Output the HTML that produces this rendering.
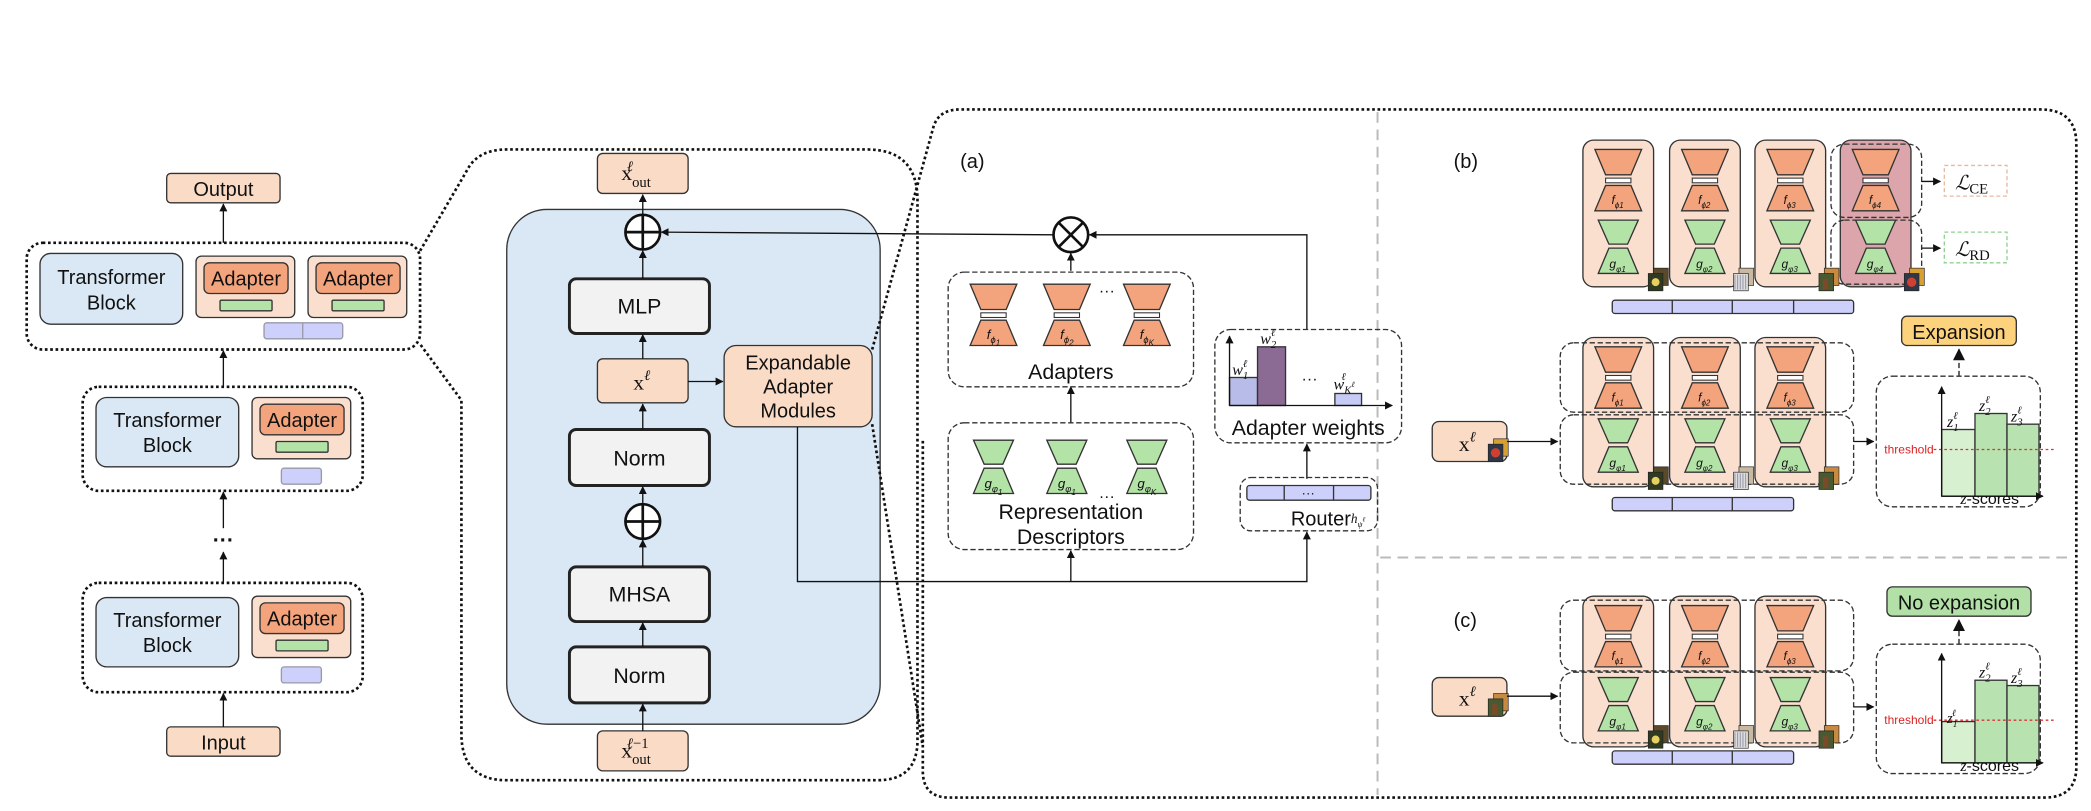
<!DOCTYPE html>
<html><head><meta charset="utf-8"><style>
html,body{margin:0;padding:0;background:#fff;}
svg{display:block;}
text{font-family:"Liberation Sans",sans-serif;fill:#111;}
.m{font-family:"Liberation Serif",serif;font-style:italic;}
.r{font-family:"Liberation Serif",serif;}
</style></head><body>
<svg width="2091" height="811" viewBox="0 0 1568 608" xmlns="http://www.w3.org/2000/svg">
<defs>
<marker id="ar" viewBox="0 0 10 10" refX="9" refY="5" markerWidth="6" markerHeight="6" orient="auto-start-reverse"><path d="M0,0L10,5L0,10z" fill="#111"/></marker>
<g id="ho"><polygon points="-17.5,0 17.5,0 9.5,19 -9.5,19" fill="#f4a47c" stroke="#333" stroke-width="1"/><rect x="-9.5" y="21.5" width="19" height="3.5" fill="#fff" stroke="#333" stroke-width="0.8"/><polygon points="-9.5,27 9.5,27 17.5,46 -17.5,46" fill="#f4a47c" stroke="#333" stroke-width="1"/></g>
<g id="hg"><polygon points="-15,0 15,0 7,18 -7,18" fill="#b3e3a6" stroke="#333" stroke-width="1"/><polygon points="-7,21 7,21 15,40 -15,40" fill="#b3e3a6" stroke="#333" stroke-width="1"/></g>
<g id="th"><rect x="0" y="0" width="11" height="13" fill="#5a4a2a" stroke="#222" stroke-width="0.5"/><rect x="-4" y="4" width="11" height="13" fill="#2f3a20" stroke="#222" stroke-width="0.5"/><circle cx="1.5" cy="10.5" r="3" fill="#e8d060"/></g>
<g id="ti"><rect x="0" y="0" width="11" height="13" fill="#c9b9a0" stroke="#222" stroke-width="0.5"/><rect x="-4" y="4" width="11" height="13" fill="#ddd" stroke="#222" stroke-width="0.5"/><path d="M-3,5v11M-1,5v11M1,5v11M3,5v11M5,5v11" stroke="#99a" stroke-width="0.8"/></g>
<g id="tj"><rect x="0" y="0" width="11" height="13" fill="#c88a40" stroke="#222" stroke-width="0.5"/><rect x="-4" y="4" width="11" height="13" fill="#4a5a30" stroke="#222" stroke-width="0.5"/><rect x="-1" y="8" width="4" height="8" fill="#7a4a2a"/></g>
<g id="tk"><rect x="0" y="0" width="11" height="13" fill="#d8a030" stroke="#222" stroke-width="0.5"/><rect x="-4" y="4" width="11" height="13" fill="#303848" stroke="#222" stroke-width="0.5"/><circle cx="1.5" cy="10.5" r="3.5" fill="#d04030"/></g>
</defs>

<!-- LEFT COLUMN -->
<g stroke="#333" stroke-width="1">
<rect x="125" y="130" width="85" height="22" rx="3" fill="#fadbc6"/>
<rect x="125" y="545" width="85" height="22" rx="3" fill="#fadbc6"/>
</g>
<text x="167.5" y="147" font-size="15" text-anchor="middle">Output</text>
<text x="167.5" y="562" font-size="15" text-anchor="middle">Input</text>
<g fill="none" stroke="#111" stroke-width="2" stroke-dasharray="2,2">
<rect x="20" y="182" width="295" height="80" rx="12"/>
<rect x="62" y="290" width="210" height="78" rx="12"/>
<rect x="62" y="437" width="210" height="82" rx="12"/>
</g>
<g stroke="#111" stroke-width="1" marker-end="url(#ar)">
<line x1="167.5" y1="182" x2="167.5" y2="153"/>
<line x1="167.5" y1="290" x2="167.5" y2="263"/>
<line x1="167.5" y1="396" x2="167.5" y2="369"/>
<line x1="167.5" y1="437" x2="167.5" y2="414"/>
<line x1="167.5" y1="545" x2="167.5" y2="520"/>
</g>
<text x="167.5" y="410" font-size="16" text-anchor="middle" font-weight="bold">···</text>
<g stroke="#333" stroke-width="1">
<rect x="30" y="190" width="107" height="53" rx="8" fill="#dae8f5"/>
<rect x="147" y="192" width="74" height="46" rx="4" fill="#fadfcf"/>
<rect x="153" y="197" width="63" height="23" rx="4" fill="#f4a47c"/>
<rect x="165" y="225" width="39" height="8" rx="1" fill="#b3e3a6"/>
<rect x="231" y="192" width="74" height="46" rx="4" fill="#fadfcf"/>
<rect x="237" y="197" width="63" height="23" rx="4" fill="#f4a47c"/>
<rect x="249" y="225" width="39" height="8" rx="1" fill="#b3e3a6"/>
<rect x="198" y="242" width="59" height="12" rx="2" fill="#cdd0fa" stroke="#99a"/>
<line x1="227" y1="242" x2="227" y2="254" stroke="#99a"/>
<rect x="72" y="298" width="107" height="52" rx="8" fill="#dae8f5"/>
<rect x="189" y="298" width="74" height="46" rx="4" fill="#fadfcf"/>
<rect x="195" y="303" width="63" height="23" rx="4" fill="#f4a47c"/>
<rect x="207" y="331" width="39" height="8" rx="1" fill="#b3e3a6"/>
<rect x="211" y="351" width="30" height="12" rx="2" fill="#cdd0fa" stroke="#99a"/>
<rect x="72" y="448" width="107" height="52" rx="8" fill="#dae8f5"/>
<rect x="189" y="447" width="74" height="46" rx="4" fill="#fadfcf"/>
<rect x="195" y="452" width="63" height="23" rx="4" fill="#f4a47c"/>
<rect x="207" y="480" width="39" height="8" rx="1" fill="#b3e3a6"/>
<rect x="211" y="500" width="30" height="12" rx="2" fill="#cdd0fa" stroke="#99a"/>
</g>
<g font-size="15" text-anchor="middle">
<text x="83.5" y="213">Transformer</text><text x="83.5" y="232">Block</text>
<text x="184.5" y="214">Adapter</text><text x="268.5" y="214">Adapter</text>
<text x="125.5" y="320">Transformer</text><text x="125.5" y="339">Block</text>
<text x="226.5" y="320">Adapter</text>
<text x="125.5" y="470">Transformer</text><text x="125.5" y="489">Block</text>
<text x="226.5" y="469">Adapter</text>
</g>

<!-- MIDDLE PANEL -->
<g fill="none" stroke="#111" stroke-width="2" stroke-dasharray="2,2">
<path d="M315,188 L350,128 Q358,112 380,112 L650,112 Q688,112 688,150 L688,555 Q688,585 658,585 L380,585 Q346,585 346,550 L346,300 L315,258"/>
</g>
<rect x="380" y="157" width="280" height="386" rx="30" fill="#dae8f5" stroke="#333" stroke-width="1"/>
<g stroke="#333" stroke-width="1">
<rect x="448" y="115" width="68" height="30" rx="4" fill="#fadbc6"/>
<rect x="448" y="548" width="68" height="30" rx="4" fill="#fadbc6"/>
<rect x="448" y="269" width="68" height="33" rx="4" fill="#fadbc6"/>
<rect x="543" y="259" width="111" height="61" rx="9" fill="#fadbc6"/>
</g>
<g stroke="#222" stroke-width="2.2" fill="#f2f2f2">
<rect x="427" y="209" width="105" height="41" rx="5"/>
<rect x="427" y="322" width="105" height="42" rx="5"/>
<rect x="427" y="425" width="105" height="41" rx="5"/>
<rect x="427" y="485" width="105" height="42" rx="5"/>
</g>
<g font-size="16" text-anchor="middle">
<text x="479.5" y="235">MLP</text><text x="479.5" y="349">Norm</text>
<text x="479.5" y="451">MHSA</text><text x="479.5" y="512">Norm</text>
</g>
<g font-size="15" text-anchor="middle">
<text x="598.5" y="277">Expandable</text><text x="598.5" y="295">Adapter</text><text x="598.5" y="313">Modules</text>
</g>
<text x="466" y="135" font-size="16" class="r">x<tspan font-size="11" dy="5">out</tspan><tspan font-size="11" dx="-18" dy="-12" class="m">ℓ</tspan></text>
<text x="466" y="568" font-size="16" class="r">x<tspan font-size="11" dy="5">out</tspan><tspan font-size="11" dx="-18" dy="-12"><tspan class="m">ℓ</tspan>−1</tspan></text>
<text x="475" y="292" font-size="16" class="r">x<tspan font-size="11" dy="-7" class="m">ℓ</tspan></text>
<g fill="#fff" stroke="#111" stroke-width="2">
<circle cx="482" cy="174" r="13"/><path d="M469,174H495M482,161V187"/>
<circle cx="482" cy="391" r="13"/><path d="M469,391H495M482,378V404"/>
</g>
<g stroke="#111" stroke-width="1" fill="none" marker-end="url(#ar)">
<line x1="482" y1="548" x2="482" y2="528"/>
<line x1="482" y1="485" x2="482" y2="467"/>
<line x1="482" y1="425" x2="482" y2="405"/>
<line x1="482" y1="378" x2="482" y2="365"/>
<line x1="482" y1="322" x2="482" y2="303"/>
<line x1="482" y1="269" x2="482" y2="251"/>
<line x1="482" y1="209" x2="482" y2="188"/>
<line x1="482" y1="161" x2="482" y2="146"/>
<line x1="516" y1="286" x2="542" y2="286"/>
<polyline points="790,176 496,174"/>
<polyline points="598,320 598,436 980,436 980,399"/>
<line x1="803" y1="436" x2="803" y2="413"/>
<line x1="803" y1="317" x2="803" y2="290"/>
<line x1="803" y1="203" x2="803" y2="190"/>
<line x1="980" y1="359" x2="980" y2="333"/>
<polyline points="980,247 980,176 817,176"/>
</g>

<!-- RIGHT BIG PANEL -->
<g fill="none" stroke="#111" stroke-width="2" stroke-dasharray="2,2">
<path d="M654,262 L700,95 Q704,82 720,82 L1530,82 Q1557,82 1557,108 L1557,575 Q1557,598 1533,598 L712,598 Q692,598 692,578 L692,330 M654,318 L692,560"/>
</g>
<g stroke="#bbb" stroke-width="1.5" stroke-dasharray="8,5">
<line x1="1033" y1="84" x2="1033" y2="596"/>
<line x1="1035" y1="418" x2="1555" y2="418"/>
</g>

<!-- (a) -->
<text x="720" y="126" font-size="15">(a)</text>
<g fill="#fff" stroke="#111" stroke-width="2">
<circle cx="803" cy="176" r="13"/><path d="M794,167L812,185M812,167L794,185"/>
</g>
<g fill="none" stroke="#333" stroke-width="1" stroke-dasharray="4,2">
<rect x="711" y="204" width="184" height="86" rx="12"/>
<rect x="711" y="317" width="184" height="95" rx="12"/>
<rect x="911" y="247" width="140" height="85" rx="12"/>
<rect x="930" y="358" width="103" height="40" rx="8"/>
</g>
<use href="#ho" x="745" y="213"/><use href="#ho" x="800" y="213"/><use href="#ho" x="860" y="213"/>
<g font-size="10" class="m" text-anchor="middle">
<text x="745" y="254">f<tspan font-size="7" dy="3">ϕ</tspan><tspan font-size="6" dy="2">1</tspan></text>
<text x="800" y="254">f<tspan font-size="7" dy="3">ϕ</tspan><tspan font-size="6" dy="2">2</tspan></text>
<text x="860" y="254">f<tspan font-size="7" dy="3">ϕ</tspan><tspan font-size="6" dy="2">K</tspan></text>
</g>
<text x="830" y="222" font-size="12" text-anchor="middle">···</text>
<text x="803" y="284" font-size="16" text-anchor="middle">Adapters</text>
<use href="#hg" x="745" y="330"/><use href="#hg" x="800" y="330"/><use href="#hg" x="860" y="330"/>
<g font-size="10" class="m" text-anchor="middle">
<text x="745" y="366">g<tspan font-size="7" dy="3">φ</tspan><tspan font-size="6" dy="2">1</tspan></text>
<text x="800" y="366">g<tspan font-size="7" dy="3">φ</tspan><tspan font-size="6" dy="2">1</tspan></text>
<text x="860" y="366">g<tspan font-size="7" dy="3">φ</tspan><tspan font-size="6" dy="2">K</tspan></text>
</g>
<text x="830" y="376" font-size="12" text-anchor="middle">···</text>
<text x="803" y="389" font-size="16" text-anchor="middle">Representation</text>
<text x="803" y="408" font-size="16" text-anchor="middle">Descriptors</text>
<!-- chart -->
<g stroke="#333" stroke-width="1">
<rect x="922" y="283" width="21" height="21" fill="#b7bde8"/>
<rect x="943" y="260" width="21" height="44" fill="#8b6a93"/>
<rect x="1001" y="295" width="20" height="9" fill="#c6cbf5"/>
</g>
<g stroke="#111" stroke-width="1" fill="none" marker-end="url(#ar)">
<polyline points="922,304 922,252"/><polyline points="922,304 1044,304"/>
</g>
<text x="924" y="281" font-size="12" class="m">w<tspan font-size="8" dy="3">1</tspan><tspan font-size="8" dx="-4" dy="-9">ℓ</tspan></text>
<text x="945" y="258" font-size="12" class="m">w<tspan font-size="8" dy="3">2</tspan><tspan font-size="8" dx="-4" dy="-9">ℓ</tspan></text>
<text x="1000" y="292" font-size="12" class="m">w<tspan font-size="8" dy="3">K</tspan><tspan font-size="6" dy="-5">ℓ</tspan><tspan font-size="8" dx="-10" dy="-5">ℓ</tspan></text>
<text x="982" y="288" font-size="12" text-anchor="middle">···</text>
<text x="981" y="326" font-size="16" text-anchor="middle">Adapter weights</text>
<rect x="935" y="364" width="93" height="11" rx="2" fill="#cdd0fa" stroke="#333"/>
<path d="M963,364V375M1000,364V375" stroke="#333"/>
<text x="981" y="373" font-size="10" text-anchor="middle">···</text>
<text x="968" y="394" font-size="15">Router</text>
<text x="1013" y="392" font-size="10" class="m">h<tspan font-size="6" dy="3">ψ</tspan><tspan font-size="5" dy="-4">ℓ</tspan></text>

<!-- (b) -->
<text x="1090" y="126" font-size="15">(b)</text>
<g stroke="#333" stroke-width="1">
<rect x="1187" y="105" width="53" height="110" rx="8" fill="#fadfcf"/>
<rect x="1252" y="105" width="53" height="110" rx="8" fill="#fadfcf"/>
<rect x="1316" y="105" width="53" height="110" rx="8" fill="#fadfcf"/>
<rect x="1380" y="105" width="53" height="110" rx="8" fill="#dba5ab"/>
</g>
<g fill="none" stroke="#333" stroke-width="1" stroke-dasharray="4,2">
<rect x="1373" y="108" width="68" height="55" rx="10"/>
<rect x="1373" y="165" width="68" height="48" rx="10"/>
</g>
<g stroke="#111" stroke-width="1" marker-end="url(#ar)">
<line x1="1441" y1="136" x2="1455" y2="136"/><line x1="1441" y1="186" x2="1455" y2="186"/>
</g>
<rect x="1458" y="124" width="47" height="23" fill="#fff" stroke="#e8b8a0" stroke-dasharray="3,2"/>
<rect x="1458" y="174" width="47" height="23" fill="#fff" stroke="#90d090" stroke-dasharray="3,2"/>
<text x="1466" y="142" font-size="15" class="m">ℒ<tspan font-size="11" font-style="normal" dy="3">CE</tspan></text>
<text x="1466" y="192" font-size="15" class="m">ℒ<tspan font-size="11" font-style="normal" dy="3">RD</tspan></text>
<use href="#ho" x="1213.5" y="112"/><use href="#ho" x="1278.5" y="112"/><use href="#ho" x="1342.5" y="112"/><use href="#ho" x="1406.5" y="112"/>
<use href="#hg" x="1213.5" y="165"/><use href="#hg" x="1278.5" y="165"/><use href="#hg" x="1342.5" y="165"/><use href="#hg" x="1406.5" y="165"/>
<g font-size="9" class="m" text-anchor="middle">
<text x="1213" y="153">f<tspan font-size="6" dy="3">ϕ1</tspan></text><text x="1278" y="153">f<tspan font-size="6" dy="3">ϕ2</tspan></text>
<text x="1342" y="153">f<tspan font-size="6" dy="3">ϕ3</tspan></text><text x="1406" y="153">f<tspan font-size="6" dy="3">ϕ4</tspan></text>
<text x="1213" y="201">g<tspan font-size="6" dy="3">φ1</tspan></text><text x="1278" y="201">g<tspan font-size="6" dy="3">φ2</tspan></text>
<text x="1342" y="201">g<tspan font-size="6" dy="3">φ3</tspan></text><text x="1406" y="201">g<tspan font-size="6" dy="3">φ4</tspan></text>
</g>
<use href="#th" x="1240" y="201"/><use href="#ti" x="1304" y="201"/><use href="#tj" x="1368" y="201"/><use href="#tk" x="1432" y="201"/>
<rect x="1209" y="225" width="181" height="10" rx="2" fill="#cdd0fa" stroke="#333"/>
<path d="M1254,225V235M1299,225V235M1345,225V235" stroke="#333"/>

<rect x="1426" y="237" width="86" height="22" rx="4" fill="#fcd27c" stroke="#333"/>
<text x="1469" y="254" font-size="15" text-anchor="middle">Expansion</text>
<line x1="1469" y1="282" x2="1469" y2="262" stroke="#666" stroke-width="1.5" stroke-dasharray="4,2" marker-end="url(#ar)"/>

<rect x="1074" y="316" width="56" height="30" rx="5" fill="#fadbc6" stroke="#333"/>
<text x="1094" y="338" font-size="16" class="r">x<tspan font-size="11" dy="-7" class="m">ℓ</tspan></text>
<use href="#tk" x="1120" y="329"/>
<g stroke="#333" stroke-width="1">
<rect x="1187" y="253" width="53" height="112" rx="8" fill="#fadfcf"/>
<rect x="1252" y="253" width="53" height="112" rx="8" fill="#fadfcf"/>
<rect x="1316" y="253" width="53" height="112" rx="8" fill="#fadfcf"/>
</g>
<use href="#ho" x="1213.5" y="260"/><use href="#ho" x="1278.5" y="260"/><use href="#ho" x="1342.5" y="260"/>
<use href="#hg" x="1213.5" y="314"/><use href="#hg" x="1278.5" y="314"/><use href="#hg" x="1342.5" y="314"/>
<g fill="none" stroke="#333" stroke-width="1" stroke-dasharray="4,2">
<rect x="1170" y="257" width="220" height="52" rx="10"/>
<rect x="1170" y="311" width="220" height="52" rx="10"/>
</g>
<g font-size="9" class="m" text-anchor="middle">
<text x="1213" y="301">f<tspan font-size="6" dy="3">ϕ1</tspan></text><text x="1278" y="301">f<tspan font-size="6" dy="3">ϕ2</tspan></text><text x="1342" y="301">f<tspan font-size="6" dy="3">ϕ3</tspan></text>
<text x="1213" y="350">g<tspan font-size="6" dy="3">φ1</tspan></text><text x="1278" y="350">g<tspan font-size="6" dy="3">φ2</tspan></text><text x="1342" y="350">g<tspan font-size="6" dy="3">φ3</tspan></text>
</g>
<use href="#th" x="1240" y="350"/><use href="#ti" x="1304" y="350"/><use href="#tj" x="1368" y="350"/>
<rect x="1209" y="373" width="136" height="10" rx="2" fill="#cdd0fa" stroke="#333"/>
<path d="M1254,373V383M1299,373V383" stroke="#333"/>
<g stroke="#111" stroke-width="1" marker-end="url(#ar)">
<line x1="1130" y1="331" x2="1168" y2="331"/><line x1="1390" y1="331" x2="1405" y2="331"/>
</g>
<rect x="1407" y="282" width="123" height="98" rx="12" fill="none" stroke="#333" stroke-dasharray="4,2"/>
<g stroke="#333" stroke-width="1">
<rect x="1456" y="322" width="25" height="50" fill="#d7f0d0"/>
<rect x="1481" y="310" width="24" height="62" fill="#b8e2af"/>
<rect x="1505" y="318" width="24" height="54" fill="#b8e2af"/>
</g>
<line x1="1450" y1="337" x2="1540" y2="337" stroke="#d33" stroke-width="1" stroke-dasharray="2,2"/>
<text x="1413" y="340" font-size="9" style="fill:#d22">threshold</text>
<g stroke="#111" stroke-width="1" fill="none" marker-end="url(#ar)">
<polyline points="1456,372 1456,290"/><polyline points="1456,372 1532,372"/>
</g>
<text x="1460" y="320" font-size="12" class="m">z<tspan font-size="8" dy="3">1</tspan><tspan font-size="8" dx="-4" dy="-9">ℓ</tspan></text>
<text x="1484" y="308" font-size="12" class="m">z<tspan font-size="8" dy="3">2</tspan><tspan font-size="8" dx="-4" dy="-9">ℓ</tspan></text>
<text x="1508" y="316" font-size="12" class="m">z<tspan font-size="8" dy="3">3</tspan><tspan font-size="8" dx="-4" dy="-9">ℓ</tspan></text>
<text x="1470" y="378" font-size="12"><tspan class="m">z</tspan>-scores</text>

<!-- (c) -->
<text x="1090" y="470" font-size="15">(c)</text>
<rect x="1415" y="440" width="108" height="22" rx="4" fill="#b2e0a6" stroke="#333"/>
<text x="1469" y="457" font-size="15" text-anchor="middle">No expansion</text>
<line x1="1469" y1="483" x2="1469" y2="465" stroke="#666" stroke-width="1.5" stroke-dasharray="4,2" marker-end="url(#ar)"/>
<rect x="1074" y="508" width="56" height="29" rx="5" fill="#fadbc6" stroke="#333"/>
<text x="1094" y="529" font-size="16" class="r">x<tspan font-size="11" dy="-7" class="m">ℓ</tspan></text>
<use href="#tj" x="1120" y="520"/>
<g stroke="#333" stroke-width="1">
<rect x="1187" y="447" width="53" height="113" rx="8" fill="#fadfcf"/>
<rect x="1252" y="447" width="53" height="113" rx="8" fill="#fadfcf"/>
<rect x="1316" y="447" width="53" height="113" rx="8" fill="#fadfcf"/>
</g>
<use href="#ho" x="1213.5" y="454"/><use href="#ho" x="1278.5" y="454"/><use href="#ho" x="1342.5" y="454"/>
<use href="#hg" x="1213.5" y="508"/><use href="#hg" x="1278.5" y="508"/><use href="#hg" x="1342.5" y="508"/>
<g fill="none" stroke="#333" stroke-width="1" stroke-dasharray="4,2">
<rect x="1170" y="450" width="220" height="53" rx="10"/>
<rect x="1170" y="504" width="220" height="53" rx="10"/>
</g>
<g font-size="9" class="m" text-anchor="middle">
<text x="1213" y="495">f<tspan font-size="6" dy="3">ϕ1</tspan></text><text x="1278" y="495">f<tspan font-size="6" dy="3">ϕ2</tspan></text><text x="1342" y="495">f<tspan font-size="6" dy="3">ϕ3</tspan></text>
<text x="1213" y="544">g<tspan font-size="6" dy="3">φ1</tspan></text><text x="1278" y="544">g<tspan font-size="6" dy="3">φ2</tspan></text><text x="1342" y="544">g<tspan font-size="6" dy="3">φ3</tspan></text>
</g>
<use href="#th" x="1240" y="544"/><use href="#ti" x="1304" y="544"/><use href="#tj" x="1368" y="544"/>
<rect x="1209" y="563" width="136" height="10" rx="2" fill="#cdd0fa" stroke="#333"/>
<path d="M1254,563V573M1299,563V573" stroke="#333"/>
<g stroke="#111" stroke-width="1" marker-end="url(#ar)">
<line x1="1130" y1="522" x2="1168" y2="522"/><line x1="1390" y1="530" x2="1405" y2="530"/>
</g>
<rect x="1407" y="483" width="123" height="97" rx="12" fill="none" stroke="#333" stroke-dasharray="4,2"/>
<g stroke="#333" stroke-width="1">
<rect x="1456" y="541" width="25" height="31" fill="#d7f0d0"/>
<rect x="1481" y="510" width="24" height="62" fill="#b8e2af"/>
<rect x="1505" y="514" width="24" height="58" fill="#b8e2af"/>
</g>
<line x1="1450" y1="540" x2="1540" y2="540" stroke="#d33" stroke-width="1" stroke-dasharray="2,2"/>
<text x="1413" y="543" font-size="9" style="fill:#d22">threshold</text>
<g stroke="#111" stroke-width="1" fill="none" marker-end="url(#ar)">
<polyline points="1456,572 1456,490"/><polyline points="1456,572 1532,572"/>
</g>
<text x="1460" y="542" font-size="11" class="m">z<tspan font-size="7" dy="3">1</tspan><tspan font-size="7" dx="-4" dy="-8">ℓ</tspan></text>
<text x="1484" y="508" font-size="12" class="m">z<tspan font-size="8" dy="3">2</tspan><tspan font-size="8" dx="-4" dy="-9">ℓ</tspan></text>
<text x="1508" y="512" font-size="12" class="m">z<tspan font-size="8" dy="3">3</tspan><tspan font-size="8" dx="-4" dy="-9">ℓ</tspan></text>
<text x="1470" y="578" font-size="12"><tspan class="m">z</tspan>-scores</text>
</svg>
</body></html>
